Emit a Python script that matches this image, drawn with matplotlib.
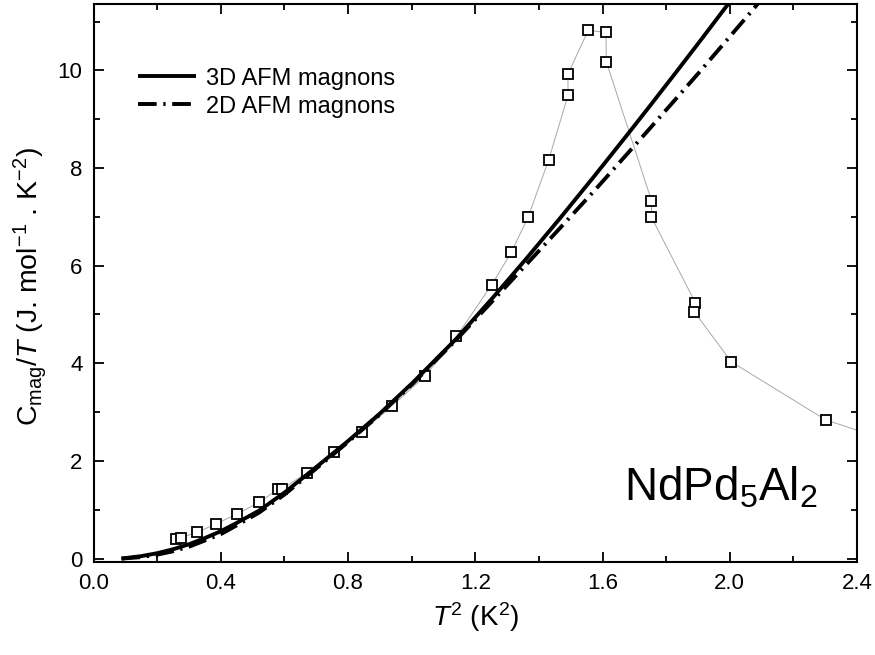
import numpy as np
import matplotlib
matplotlib.use('Agg')
import matplotlib.pyplot as plt
from matplotlib.ticker import MultipleLocator

plt.rcParams['font.family'] = ['Liberation Sans', 'DejaVu Sans']
plt.rcParams['mathtext.fontset'] = 'custom'
plt.rcParams['mathtext.rm'] = 'Liberation Sans'
plt.rcParams['mathtext.it'] = 'Liberation Sans:italic'
plt.rcParams['mathtext.bf'] = 'Liberation Sans:bold'

# measured C_mag/T vs T^2 (in measurement order)
t2_data = [0.259, 0.274, 0.326, 0.385, 0.450, 0.521, 0.579, 0.594, 0.671, 0.755,
           0.845, 0.939, 1.041, 1.141, 1.252, 1.313, 1.366, 1.431, 1.492, 1.491,
           1.555, 1.611, 1.612, 1.754, 1.754, 1.892, 1.888, 2.005, 2.302, 2.60]
c_data = [0.41, 0.43, 0.54, 0.71, 0.91, 1.15, 1.42, 1.43, 1.76, 2.18,
          2.60, 3.13, 3.73, 4.55, 5.61, 6.27, 6.99, 8.17, 9.50, 9.92,
          10.82, 10.78, 10.18, 7.33, 6.99, 5.24, 5.06, 4.03, 2.84, 2.20]

# 3D AFM magnon fit
t2_3d = [0.088, 0.15, 0.20, 0.25, 0.303, 0.35, 0.40, 0.45, 0.52, 0.60, 0.69,
         0.795, 0.90, 1.003, 1.14, 1.252, 1.36, 1.465, 1.57, 1.674,
         1.75, 1.831, 1.91, 1.988, 2.00]
c_3d = [0.00, 0.05, 0.11, 0.19, 0.30, 0.42, 0.56, 0.73, 0.98, 1.35, 1.82,
        2.38, 2.97, 3.60, 4.50, 5.32, 6.14, 6.96, 7.80, 8.65,
        9.28, 9.96, 10.63, 11.30, 11.40]

# 2D AFM magnon fit
t2_2d = [0.088, 0.15, 0.20, 0.25, 0.303, 0.35, 0.40, 0.45, 0.52, 0.60, 0.69,
         0.795, 0.90, 1.003, 1.14, 1.252, 1.36, 1.465, 1.575, 1.742,
         1.904, 2.067, 2.09]
c_2d = [0.00, 0.03, 0.08, 0.15, 0.25, 0.37, 0.50, 0.68, 0.94, 1.31, 1.79,
        2.36, 2.95, 3.58, 4.48, 5.26, 6.02, 6.76, 7.54, 8.76,
        9.96, 11.20, 11.38]

fig = plt.figure(figsize=(8.75, 6.55), dpi=100)
ax = fig.add_axes([93.5 / 875, 1 - 562 / 655, (857 - 93.5) / 875, (562 - 4) / 655])

ax.plot(t2_data, c_data, color='#a8a8a8', lw=0.7, zorder=2,
        marker='s', ms=7.5, mfc='white', mec='black', mew=1.3)
ax.plot(t2_3d, c_3d, color='black', lw=2.8, solid_capstyle='butt',
        label='3D AFM magnons', zorder=3)
ax.plot(t2_2d, c_2d, color='black', lw=2.8, linestyle=(0, (4.8, 1.7, 0.6, 1.7)),
        dash_capstyle='butt', label='2D AFM magnons', zorder=3)

ax.set_xlim(0, 2.4)
ax.set_ylim(-0.07, 11.36)
ax.xaxis.set_major_locator(MultipleLocator(0.4))
ax.xaxis.set_minor_locator(MultipleLocator(0.2))
ax.yaxis.set_major_locator(MultipleLocator(2))
ax.yaxis.set_minor_locator(MultipleLocator(1))
ax.xaxis.set_major_formatter(matplotlib.ticker.FormatStrFormatter('%.1f'))

ax.tick_params(which='both', direction='in', top=True, right=True, width=1.3)
ax.tick_params(which='major', length=7.5, labelsize=16, pad=8)
ax.tick_params(which='minor', length=4.5)
for s in ax.spines.values():
    s.set_linewidth(1.5)

ax.set_xlabel(r'$T^2$ (K$^2$)', fontsize=20)
ax.set_ylabel(r'C$_{\rm mag}$/$T$ (J. mol$^{-1}$ . K$^{-2}$)', fontsize=20.5)
ax.xaxis.set_label_coords(0.501, -0.068)
ax.yaxis.set_label_coords(-0.058, 0.493)

ax.legend(loc='upper left', bbox_to_anchor=(0.058, 0.886), frameon=False,
          fontsize=17, handlelength=2.45, handletextpad=0.45,
          labelspacing=0.25, borderpad=0, borderaxespad=0)

ax.text(0.695, 0.11, r'NdPd$_5$Al$_2$', transform=ax.transAxes,
        fontsize=33, ha='left', va='baseline')

fig.savefig('out.png', dpi=100)
